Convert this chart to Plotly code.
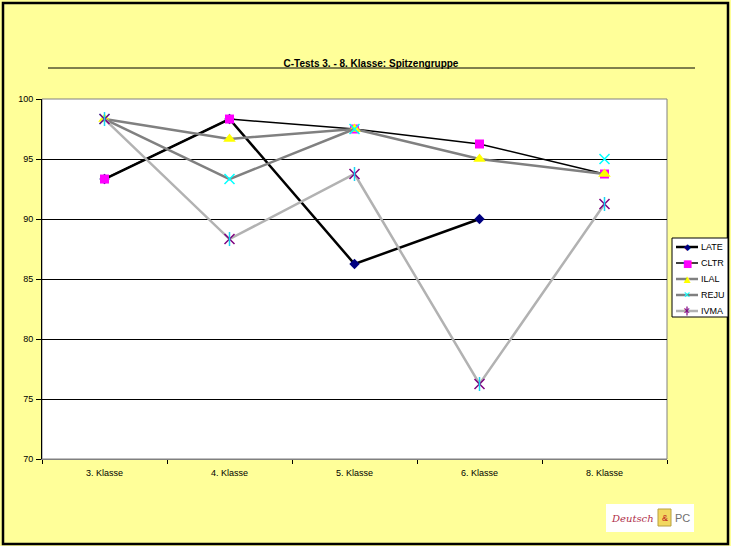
import plotly.graph_objects as go

categories = ["3. Klasse", "4. Klasse", "5. Klasse", "6. Klasse", "8. Klasse"]
LATE = [93.33, 98.33, 86.25, 90.0, None]
CLTR = [93.33, 98.33, 97.5, 96.25, 93.75]
ILAL = [98.33, 96.67, 97.5, 95.0, 93.75]
REJU = [98.33, 93.33, 97.5, None, 95.0]
IVMA = [98.33, 88.33, 93.75, 76.25, 91.25]
series_names = ["LATE", "CLTR", "ILAL", "REJU", "IVMA"]
series_values = [LATE, CLTR, ILAL, REJU, IVMA]
title_text = "C-Tests 3. - 8. Klasse: Spitzengruppe"

W, H = 731, 546
L, R, T, B = 42, 64, 99, 87
PW, PH = W - L - R, H - T - B


def px(x):
    return (x - L) / PW


def py(y):
    return (H - B - y) / PH


styles = {
    "LATE": dict(lc="#000000", lw=2.5, sym="diamond", mc="#000080", ms=8, ml=0),
    "CLTR": dict(lc="#000000", lw=1.5, sym="square", mc="#FF00FF", ms=9, ml=0),
    "ILAL": dict(lc="#808080", lw=2.5, sym="triangle-up", mc="#FFFF00", ms=11, ml=0),
    "REJU": dict(lc="#808080", lw=2.5, sym="x-thin-open", mc="#00FFFF", ms=10, ml=1.5),
    "IVMA": dict(lc="#B2B2B2", lw=2.5, sym="x-thin-open", mc="#800080", ms=10, ml=1.5),
}

fig = go.Figure()
for name, vals in zip(series_names, series_values):
    s = styles[name]
    marker = dict(symbol=s["sym"], size=s["ms"], color=s["mc"])
    if s["ml"]:
        marker["line"] = dict(color=s["mc"], width=s["ml"])
    else:
        marker["line"] = dict(width=0)
    fig.add_trace(go.Scatter(x=categories, y=vals, name=name, mode="lines+markers",
                             line=dict(color=s["lc"], width=s["lw"]),
                             marker=marker, connectgaps=False, showlegend=False))
    if name == "IVMA":
        fig.add_trace(go.Scatter(x=categories, y=vals, mode="markers", showlegend=False,
                                 marker=dict(symbol="line-ns-open", size=10,
                                             line=dict(color=s["mc"], width=1.5))))

shapes = []
annotations = []
# outer frame
shapes.append(dict(type="rect", xref="paper", yref="paper", x0=px(3), x1=px(728),
                   y0=py(544), y1=py(3), line=dict(color="black", width=2.5), layer="above"))
# plot area border
shapes.append(dict(type="rect", xref="paper", yref="paper", x0=0, x1=1, y0=0, y1=1,
                   line=dict(color="#808080", width=1), layer="below"))
# title underline
shapes.append(dict(type="line", xref="paper", yref="paper", x0=px(48), x1=px(695),
                   y0=py(68), y1=py(68), line=dict(color="black", width=1)))

# custom legend
shapes.append(dict(type="rect", xref="paper", yref="paper", x0=px(672), x1=px(728),
                   y0=py(317), y1=py(238), line=dict(color="black", width=1),
                   fillcolor="white", layer="above"))
glyphs = {"LATE": "◆", "CLTR": "■", "ILAL": "▲", "REJU": "✕", "IVMA": "✕"}
gsize = {"LATE": 9, "CLTR": 10, "ILAL": 9, "REJU": 9, "IVMA": 9}
rows = [247, 263, 279, 295, 311]
for name, yy in zip(series_names, rows):
    s = styles[name]
    shapes.append(dict(type="line", xref="paper", yref="paper", x0=px(676), x1=px(698),
                       y0=py(yy), y1=py(yy), line=dict(color=s["lc"], width=s["lw"]),
                       layer="above"))
    annotations.append(dict(x=px(687), y=py(yy), xref="paper", yref="paper",
                            text=glyphs[name], showarrow=False, xanchor="center",
                            yanchor="middle",
                            font=dict(family="DejaVu Sans", size=gsize[name], color=s["mc"])))
    if name == "IVMA":
        shapes.append(dict(type="line", xref="paper", yref="paper", x0=px(687), x1=px(687),
                           y0=py(yy + 4.5), y1=py(yy - 4.5),
                           line=dict(color=s["mc"], width=1.2), layer="above"))
    annotations.append(dict(x=px(699), y=py(yy), xref="paper", yref="paper", text=name,
                            showarrow=False, xanchor="left", yanchor="middle",
                            font=dict(family="Liberation Sans", size=9, color="black")))

# logo
shapes.append(dict(type="rect", xref="paper", yref="paper", x0=px(606), x1=px(694),
                   y0=py(532), y1=py(504), line=dict(width=0), fillcolor="white"))
shapes.append(dict(type="rect", xref="paper", yref="paper", x0=px(658), x1=px(671),
                   y0=py(526), y1=py(509), line=dict(color="#B8A040", width=1),
                   fillcolor="#F2D860"))
annotations.append(dict(x=px(632), y=py(518), xref="paper", yref="paper", text="<i>Deutsch</i>",
                        showarrow=False, xanchor="center", yanchor="middle",
                        font=dict(family="DejaVu Serif", size=10, color="#B0304A")))
annotations.append(dict(x=px(664.5), y=py(518), xref="paper", yref="paper", text="&",
                        showarrow=False, xanchor="center", yanchor="middle",
                        font=dict(family="Liberation Sans", size=9, color="#C02020")))
annotations.append(dict(x=px(673), y=py(518), xref="paper", yref="paper", text="PC",
                        showarrow=False, xanchor="left", yanchor="middle",
                        font=dict(family="Liberation Sans", size=11, color="#707070")))

fig.update_layout(
    width=W, height=H,
    margin=dict(l=L, r=R, t=T, b=B, pad=0),
    paper_bgcolor="#FFFF99",
    plot_bgcolor="white",
    showlegend=False,
    title=dict(text="<b>" + title_text + "</b>", x=371 / W, xanchor="center",
               y=1 - 63.5 / H, yanchor="middle",
               font=dict(family="Liberation Sans", size=10, color="black")),
    font=dict(family="Liberation Sans", size=9, color="black"),
    shapes=shapes,
    annotations=annotations,
    xaxis=dict(type="category", range=[-0.5, 4.5], showgrid=False, zeroline=False,
               tickson="boundaries", ticks="outside", ticklen=4, tickcolor="black",
               ticklabelstandoff=5,
               showline=True, linecolor="#808080", linewidth=1,
               tickfont=dict(family="Liberation Sans", size=9, color="black")),
    yaxis=dict(range=[70, 100], dtick=5, tick0=70, showgrid=True, gridcolor="black",
               gridwidth=1, zeroline=False, ticks="outside", ticklen=5, tickcolor="black",
               ticklabelstandoff=1,
               showline=True, linecolor="black", linewidth=1,
               tickfont=dict(family="Liberation Sans", size=9, color="black")),
)

fig.write_html("out.html", config={"displayModeBar": False},
               post_script="document.body.style.margin='0px';document.body.style.overflow='hidden';")
